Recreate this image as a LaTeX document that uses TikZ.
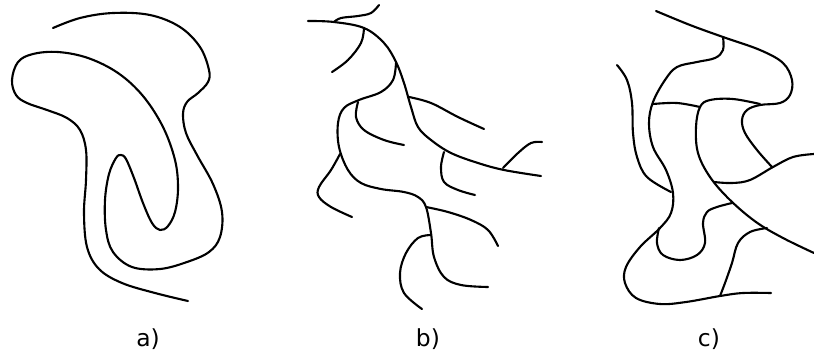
\documentclass[tikz,border=0pt]{standalone}
\usepackage{fontspec}
\setmainfont{DejaVu Sans}
\begin{document}
\begin{tikzpicture}[x=0.03cm,y=-0.03cm,
    curve/.style={line width=1.8pt, line cap=round, line join=round},
    lbl/.style={anchor=base, font=\fontsize{20}{24}\selectfont}]

\useasboundingbox (0,0) rectangle (814,352);

% ===== a) =====
\draw[curve] plot[smooth, tension=0.6] coordinates {
    (53,28) (80,18) (113,13) (150,15) (180,27) (200,47) (209,70) (208,82)
    (198,93) (187,102) (183,114) (186,133) (197,155) (213,184) (222,212)
    (220,237) (209,252) (187,262) (160,269) (132,267) (113,252) (106,230)
    (105,200) (109,174) (116,158) (121,155) (126,159) (134,178) (143,203)
    (152,223) (160,230) (168,226) (175,212) (178,188) (175,160) (163,127)
    (143,96) (118,73) (88,58) (58,52) (33,54) (18,62) (12,80) (16,95)
    (27,103) (47,110) (67,118) (80,130) (86,150) (86,180) (84,213) (87,247)
    (99,269) (122,283) (155,293) (188,301)};

% ===== b) =====
\draw[curve] plot[smooth, tension=0.6] coordinates {
    (308,21) (334,22) (364,28) (384,43) (396,62) (404,83) (411,107)
    (418,127) (431,140) (451,153) (478,163) (504,170) (541,176)};
\draw[curve] plot[smooth, tension=0.6] coordinates {
    (334,22) (341,18) (358,16) (371,13) (379,5)};
\draw[curve] plot[smooth, tension=0.6] coordinates {
    (364,28) (361,43) (348,60) (332,72)};
\draw[curve] plot[smooth, tension=0.6] coordinates {
    (396,63) (393,80) (381,92) (359,100) (344,108) (338,123) (339,147)
    (348,170) (361,183) (381,189) (404,192) (418,197) (426,207) (431,233)
    (434,257) (444,277) (461,285) (488,287)};
\draw[curve] plot[smooth, tension=0.6] coordinates {
    (358,102) (356,117) (364,130) (384,140) (404,145)};
\draw[curve] plot[smooth, tension=0.6] coordinates {
    (409,97) (431,103) (458,117) (484,129)};
\draw[curve] plot[smooth, tension=0.6] coordinates {
    (444,152) (441,167) (444,182) (458,190) (475,195)};
\draw[curve] plot[smooth, tension=0.6] coordinates {
    (503,168) (518,153) (531,143) (542,142)};
\draw[curve] plot[smooth, tension=0.6] coordinates {
    (340,154) (331,170) (319,187) (319,197) (331,207) (352,217)};
\draw[curve] plot[smooth, tension=0.6] coordinates {
    (426,207) (448,212) (471,220) (488,230) (498,246)};
\draw[curve] plot[smooth, tension=0.6] coordinates {
    (431,235) (418,238) (406,253) (400,273) (404,293) (422,309)};

% ===== c) =====
\draw[curve] plot[smooth, tension=0.6] coordinates {
    (656,11) (690,25) (723,37) (760,50) (783,63) (792,80) (790,95) (780,103)
    (760,105) (747,110) (742,120) (745,133) (757,150) (772,167)};
\draw[curve] plot[smooth, tension=0.6] coordinates {
    (723,37) (723,50) (715,58) (697,62) (677,67) (665,80) (653,102) (649,123)
    (653,147) (666,170) (673,193) (671,213) (660,228) (640,247) (626,267)
    (625,283) (636,298) (660,304) (686,302) (720,296) (743,293) (771,293)};
\draw[curve] plot[smooth, tension=0.6] coordinates {
    (653,104) (677,103) (700,107)};
\draw[curve] plot[smooth, tension=0.6] coordinates {
    (760,104) (733,99) (710,100) (700,107) (696,127) (698,153) (710,177)
    (730,200) (756,222) (783,238) (814,253)};
\draw[curve] plot[smooth, tension=0.6] coordinates {
    (617,65) (627,80) (632,103) (633,133) (637,157) (647,177) (671,192)};
\draw[curve] plot[smooth, tension=0.6] coordinates {
    (659,228) (657,243) (663,255) (680,260) (697,255) (705,243) (703,223)
    (707,212) (717,207) (732,203)};
\draw[curve] plot[smooth, tension=0.6] coordinates {
    (714,182) (732,183) (750,180) (773,167) (793,157) (814,154)};
\draw[curve] plot[smooth, tension=0.6] coordinates {
    (767,228) (750,232) (738,243) (732,263) (725,283) (720,296)};

% ===== Labels =====
\node[lbl] (lblA) at (148,346) {a)};
\node[lbl] (lblB) at (428,346) {b)};
\node[lbl] (lblC) at (709,346) {c)};

\end{tikzpicture}
\end{document}
